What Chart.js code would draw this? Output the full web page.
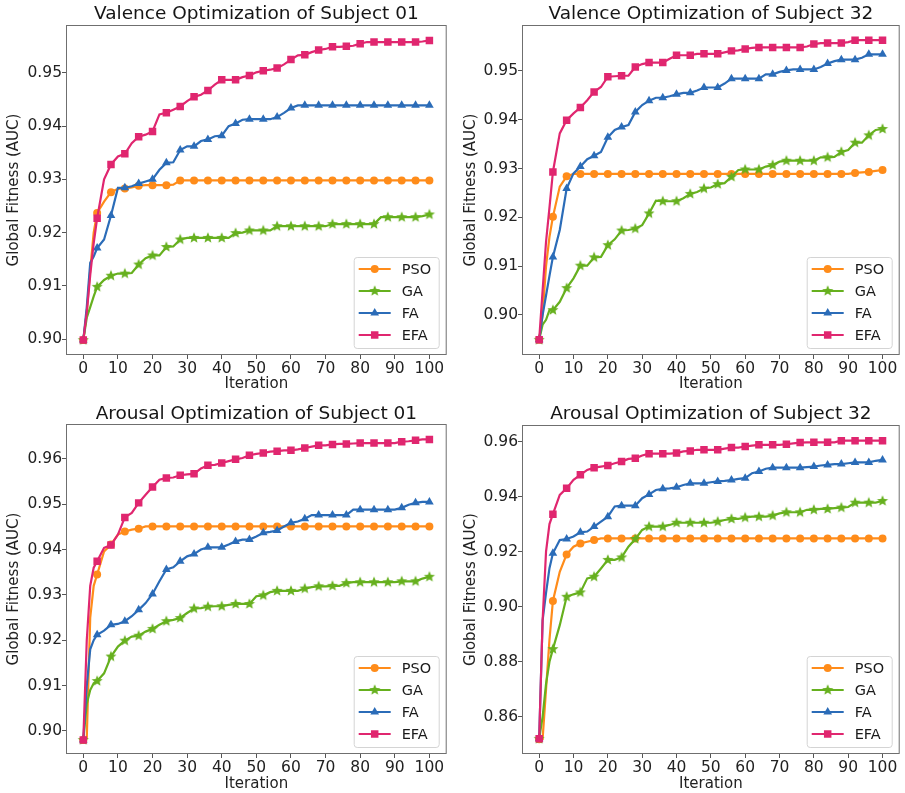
<!DOCTYPE html>
<html>
<head>
<meta charset="utf-8">
<script src="https://cdn.jsdelivr.net/npm/chart.js@4.4.0/dist/chart.umd.min.js"></script>
<style>
  body { margin: 0; background: #fff; }
  #wrap { position: relative; width: 905px; height: 793px; }
  canvas { position: absolute; }
</style>
</head>
<body>
<div id="wrap">
  <canvas id="c1" width="452" height="395" style="left:0;top:0"></canvas>
  <canvas id="c2" width="453" height="395" style="left:452px;top:0"></canvas>
  <canvas id="c3" width="452" height="398" style="left:0;top:395px"></canvas>
  <canvas id="c4" width="453" height="398" style="left:452px;top:395px"></canvas>
</div>
<script>
// iterations sampled (markers every 4th iteration)
const iterations = [0, 1, 2, 3, 4,
  6, 8, 10, 12, 14, 16, 18, 20,
  22, 24, 26, 28, 30, 32, 34, 36,
  38, 40, 42, 44, 46, 48, 50, 52,
  54, 56, 58, 60, 62, 64, 66, 68,
  70, 72, 74, 76, 78, 80, 82, 84,
  86, 88, 90, 92, 94, 96, 98, 100]

const methods = ['PSO', 'GA', 'FA', 'EFA']
const titles = ['Valence Optimization of Subject 01', 'Valence Optimization of Subject 32',
  'Arousal Optimization of Subject 01', 'Arousal Optimization of Subject 32']

const xTicks = [0, 10, 20, 30, 40, 50, 60, 70, 80, 90, 100]
const v01Ticks = [0.90, 0.91, 0.92, 0.93, 0.94, 0.95]
const v32Ticks = [0.90, 0.91, 0.92, 0.93, 0.94, 0.95]
const a01Ticks = [0.90, 0.91, 0.92, 0.93, 0.94, 0.95, 0.96]
const a32Ticks = [0.86, 0.88, 0.90, 0.92, 0.94, 0.96]

// Valence, subject 01
const v01PSO = [0.8998, 0.9050, 0.9130, 0.9200, 0.9237,
  0.9258, 0.9276, 0.9282, 0.9283, 0.9285, 0.9288, 0.9289, 0.9289,
  0.9289, 0.9289, 0.9290, 0.9298, 0.9298, 0.9298, 0.9298, 0.9298,
  0.9298, 0.9298, 0.9298, 0.9298, 0.9298, 0.9298, 0.9298, 0.9298,
  0.9298, 0.9298, 0.9298, 0.9298, 0.9298, 0.9298, 0.9298, 0.9298,
  0.9298, 0.9298, 0.9298, 0.9298, 0.9298, 0.9298, 0.9298, 0.9298,
  0.9298, 0.9298, 0.9298, 0.9298, 0.9298, 0.9298, 0.9298, 0.9298]
const v01GA = [0.8998, 0.9040, 0.9060, 0.9080, 0.9098,
  0.9111, 0.9119, 0.9123, 0.9123, 0.9124, 0.9140, 0.9152, 0.9157,
  0.9157, 0.9173, 0.9174, 0.9187, 0.9190, 0.9190, 0.9190, 0.9190,
  0.9190, 0.9190, 0.9190, 0.9199, 0.9200, 0.9204, 0.9204, 0.9204,
  0.9204, 0.9212, 0.9212, 0.9212, 0.9212, 0.9212, 0.9212, 0.9212,
  0.9212, 0.9216, 0.9216, 0.9216, 0.9216, 0.9216, 0.9216, 0.9216,
  0.9229, 0.9229, 0.9229, 0.9229, 0.9229, 0.9229, 0.9231, 0.9234]
const v01FA = [0.8998, 0.9060, 0.9143, 0.9155, 0.9171,
  0.9187, 0.9232, 0.9284, 0.9284, 0.9287, 0.9292, 0.9296, 0.9300,
  0.9318, 0.9331, 0.9332, 0.9355, 0.9362, 0.9362, 0.9372, 0.9375,
  0.9381, 0.9382, 0.9400, 0.9405, 0.9412, 0.9413, 0.9413, 0.9413,
  0.9413, 0.9417, 0.9425, 0.9434, 0.9439, 0.9439, 0.9439, 0.9439,
  0.9439, 0.9439, 0.9439, 0.9439, 0.9439, 0.9439, 0.9439, 0.9439,
  0.9439, 0.9439, 0.9439, 0.9439, 0.9439, 0.9439, 0.9439, 0.9439]
const v01EFA = [0.8998, 0.9050, 0.9120, 0.9180, 0.9227,
  0.9300, 0.9328, 0.9343, 0.9348, 0.9368, 0.9380, 0.9384, 0.9390,
  0.9422, 0.9425, 0.9431, 0.9437, 0.9447, 0.9455, 0.9459, 0.9467,
  0.9478, 0.9487, 0.9487, 0.9487, 0.9492, 0.9495, 0.9501, 0.9504,
  0.9506, 0.9509, 0.9516, 0.9525, 0.9533, 0.9534, 0.9539, 0.9543,
  0.9545, 0.9549, 0.9549, 0.9550, 0.9551, 0.9555, 0.9558, 0.9558,
  0.9558, 0.9558, 0.9558, 0.9558, 0.9558, 0.9558, 0.9559, 0.9561]

// Valence, subject 32
const v32PSO = [0.8949, 0.9000, 0.9100, 0.9160, 0.9201,
  0.9263, 0.9284, 0.9289, 0.9289, 0.9289, 0.9289, 0.9289, 0.9289,
  0.9289, 0.9289, 0.9289, 0.9289, 0.9289, 0.9289, 0.9289, 0.9289,
  0.9289, 0.9289, 0.9289, 0.9289, 0.9289, 0.9289, 0.9289, 0.9289,
  0.9289, 0.9289, 0.9289, 0.9289, 0.9289, 0.9289, 0.9289, 0.9289,
  0.9289, 0.9289, 0.9289, 0.9289, 0.9289, 0.9289, 0.9289, 0.9289,
  0.9289, 0.9289, 0.9289, 0.9291, 0.9292, 0.9293, 0.9295, 0.9297]
const v32GA = [0.8949, 0.8980, 0.8990, 0.9010, 0.9010,
  0.9027, 0.9055, 0.9075, 0.9101, 0.9101, 0.9118, 0.9119, 0.9143,
  0.9155, 0.9173, 0.9174, 0.9177, 0.9184, 0.9208, 0.9234, 0.9233,
  0.9233, 0.9233, 0.9239, 0.9248, 0.9252, 0.9259, 0.9261, 0.9268,
  0.9270, 0.9283, 0.9297, 0.9298, 0.9298, 0.9298, 0.9304, 0.9307,
  0.9314, 0.9316, 0.9316, 0.9316, 0.9316, 0.9316, 0.9323, 0.9323,
  0.9324, 0.9334, 0.9338, 0.9353, 0.9353, 0.9368, 0.9379, 0.9381]
const v32FA = [0.8949, 0.9000, 0.9040, 0.9080, 0.9119,
  0.9174, 0.9259, 0.9290, 0.9304, 0.9319, 0.9326, 0.9334, 0.9364,
  0.9379, 0.9385, 0.9389, 0.9416, 0.9430, 0.9439, 0.9445, 0.9445,
  0.9448, 0.9452, 0.9455, 0.9455, 0.9460, 0.9466, 0.9466, 0.9466,
  0.9474, 0.9484, 0.9484, 0.9484, 0.9484, 0.9484, 0.9493, 0.9493,
  0.9498, 0.9501, 0.9503, 0.9503, 0.9503, 0.9503, 0.9508, 0.9515,
  0.9520, 0.9523, 0.9523, 0.9523, 0.9527, 0.9534, 0.9534, 0.9534]
const v32EFA = [0.8949, 0.9050, 0.9150, 0.9220, 0.9293,
  0.9372, 0.9399, 0.9413, 0.9425, 0.9440, 0.9457, 0.9467, 0.9488,
  0.9489, 0.9490, 0.9490, 0.9508, 0.9514, 0.9517, 0.9517, 0.9517,
  0.9525, 0.9532, 0.9532, 0.9532, 0.9535, 0.9535, 0.9535, 0.9535,
  0.9538, 0.9541, 0.9542, 0.9545, 0.9547, 0.9548, 0.9548, 0.9548,
  0.9548, 0.9548, 0.9548, 0.9548, 0.9550, 0.9555, 0.9557, 0.9557,
  0.9557, 0.9557, 0.9559, 0.9563, 0.9563, 0.9563, 0.9563, 0.9563]

// Arousal, subject 01
const a01PSO = [0.8980, 0.8984, 0.9250, 0.9320, 0.9345,
  0.9396, 0.9411, 0.9433, 0.9440, 0.9444, 0.9446, 0.9451, 0.9451,
  0.9451, 0.9451, 0.9451, 0.9451, 0.9451, 0.9451, 0.9451, 0.9451,
  0.9451, 0.9451, 0.9451, 0.9451, 0.9451, 0.9451, 0.9451, 0.9451,
  0.9451, 0.9451, 0.9451, 0.9451, 0.9451, 0.9451, 0.9451, 0.9451,
  0.9451, 0.9451, 0.9451, 0.9451, 0.9451, 0.9451, 0.9451, 0.9451,
  0.9451, 0.9451, 0.9451, 0.9451, 0.9451, 0.9451, 0.9451, 0.9451]
const a01GA = [0.8980, 0.9060, 0.9090, 0.9105, 0.9110,
  0.9127, 0.9164, 0.9186, 0.9199, 0.9208, 0.9210, 0.9219, 0.9225,
  0.9234, 0.9242, 0.9245, 0.9249, 0.9260, 0.9270, 0.9271, 0.9274,
  0.9275, 0.9275, 0.9278, 0.9280, 0.9280, 0.9280, 0.9297, 0.9299,
  0.9306, 0.9309, 0.9309, 0.9309, 0.9309, 0.9314, 0.9317, 0.9319,
  0.9319, 0.9320, 0.9320, 0.9326, 0.9328, 0.9328, 0.9328, 0.9328,
  0.9328, 0.9328, 0.9328, 0.9330, 0.9330, 0.9330, 0.9336, 0.9340]
const a01FA = [0.8980, 0.9100, 0.9180, 0.9200, 0.9212,
  0.9221, 0.9234, 0.9236, 0.9242, 0.9253, 0.9267, 0.9282, 0.9302,
  0.9330, 0.9356, 0.9361, 0.9374, 0.9385, 0.9390, 0.9400, 0.9405,
  0.9405, 0.9405, 0.9411, 0.9418, 0.9422, 0.9422, 0.9429, 0.9437,
  0.9439, 0.9442, 0.9451, 0.9459, 0.9462, 0.9468, 0.9476, 0.9476,
  0.9476, 0.9476, 0.9476, 0.9476, 0.9488, 0.9488, 0.9488, 0.9488,
  0.9488, 0.9488, 0.9488, 0.9492, 0.9499, 0.9503, 0.9505, 0.9505]
const a01EFA = [0.8980, 0.9200, 0.9320, 0.9360, 0.9374,
  0.9404, 0.9410, 0.9433, 0.9471, 0.9481, 0.9503, 0.9521, 0.9538,
  0.9554, 0.9558, 0.9559, 0.9564, 0.9566, 0.9567, 0.9579, 0.9586,
  0.9587, 0.9591, 0.9595, 0.9599, 0.9602, 0.9608, 0.9611, 0.9613,
  0.9616, 0.9617, 0.9619, 0.9619, 0.9621, 0.9624, 0.9627, 0.9630,
  0.9630, 0.9632, 0.9633, 0.9633, 0.9634, 0.9635, 0.9635, 0.9635,
  0.9635, 0.9635, 0.9635, 0.9638, 0.9639, 0.9641, 0.9643, 0.9643]

// Arousal, subject 32
const a32PSO = [0.8519, 0.8520, 0.8700, 0.8880, 0.9021,
  0.9127, 0.9190, 0.9218, 0.9230, 0.9236, 0.9242, 0.9248, 0.9248,
  0.9248, 0.9248, 0.9248, 0.9248, 0.9248, 0.9248, 0.9248, 0.9248,
  0.9248, 0.9248, 0.9248, 0.9248, 0.9248, 0.9248, 0.9248, 0.9248,
  0.9248, 0.9248, 0.9248, 0.9248, 0.9248, 0.9248, 0.9248, 0.9248,
  0.9248, 0.9248, 0.9248, 0.9248, 0.9248, 0.9248, 0.9248, 0.9248,
  0.9248, 0.9248, 0.9248, 0.9248, 0.9248, 0.9248, 0.9248, 0.9248]
const a32GA = [0.8520, 0.8600, 0.8720, 0.8800, 0.8846,
  0.8933, 0.9036, 0.9045, 0.9052, 0.9103, 0.9109, 0.9139, 0.9170,
  0.9170, 0.9179, 0.9218, 0.9246, 0.9279, 0.9291, 0.9291, 0.9291,
  0.9297, 0.9305, 0.9305, 0.9305, 0.9305, 0.9305, 0.9305, 0.9309,
  0.9315, 0.9319, 0.9319, 0.9324, 0.9327, 0.9327, 0.9327, 0.9331,
  0.9339, 0.9343, 0.9343, 0.9343, 0.9352, 0.9352, 0.9355, 0.9355,
  0.9358, 0.9360, 0.9362, 0.9378, 0.9378, 0.9378, 0.9378, 0.9384]
const a32FA = [0.8520, 0.8950, 0.9050, 0.9140, 0.9194,
  0.9242, 0.9246, 0.9255, 0.9270, 0.9273, 0.9291, 0.9309, 0.9327,
  0.9364, 0.9367, 0.9367, 0.9367, 0.9394, 0.9408, 0.9424, 0.9428,
  0.9430, 0.9434, 0.9442, 0.9448, 0.9448, 0.9448, 0.9452, 0.9455,
  0.9457, 0.9460, 0.9464, 0.9467, 0.9485, 0.9491, 0.9501, 0.9505,
  0.9505, 0.9505, 0.9505, 0.9505, 0.9507, 0.9509, 0.9513, 0.9515,
  0.9518, 0.9518, 0.9521, 0.9524, 0.9524, 0.9524, 0.9530, 0.9533]
const a32EFA = [0.8520, 0.8950, 0.9200, 0.9300, 0.9336,
  0.9406, 0.9430, 0.9461, 0.9479, 0.9497, 0.9505, 0.9509, 0.9513,
  0.9521, 0.9527, 0.9537, 0.9539, 0.9549, 0.9556, 0.9556, 0.9556,
  0.9556, 0.9558, 0.9564, 0.9566, 0.9570, 0.9570, 0.9570, 0.9570,
  0.9574, 0.9578, 0.9578, 0.9582, 0.9585, 0.9588, 0.9588, 0.9588,
  0.9588, 0.9590, 0.9593, 0.9596, 0.9597, 0.9597, 0.9597, 0.9597,
  0.9597, 0.9603, 0.9603, 0.9603, 0.9603, 0.9603, 0.9603, 0.9603]

const FONT = 'DejaVu Sans'
const colors = ['#ff8c1a', '#66b01e', '#2b6cb8', '#e0266f']

// filled five point star, like matplotlib's '*'
function starImage(color, r) {
  const c = document.createElement('canvas')
  const s = Math.ceil(r * 2 + 2)
  c.width = s
  c.height = s
  const g = c.getContext('2d')
  g.fillStyle = color
  g.beginPath()
  for (let i = 0; i < 10; i++) {
    const rr = i % 2 ? r * 0.45 : r
    const a = -Math.PI / 2 + (i * Math.PI) / 5
    g.lineTo(s / 2 + rr * Math.cos(a), s / 2 + rr * Math.sin(a))
  }
  g.closePath()
  g.fill()
  return c
}

const markers = [
  { style: 'circle', r: 4 },
  { style: starImage(colors[1], 5.8), r: 5 },
  { style: 'triangle', r: 5 },
  { style: 'rect', r: 5.3 },
]

function drawMarker(ctx, i, x, y) {
  const m = markers[i]
  ctx.fillStyle = colors[i]
  if (typeof m.style !== 'string') {
    ctx.drawImage(m.style, x - m.style.width / 2, y - m.style.height / 2)
    return
  }
  ctx.beginPath()
  if (m.style === 'circle') {
    ctx.arc(x, y, m.r, 0, Math.PI * 2)
  } else if (m.style === 'triangle') {
    for (let k = 0; k < 3; k++) {
      const a = -Math.PI / 2 + (k * 2 * Math.PI) / 3
      ctx.lineTo(x + m.r * Math.cos(a), y + m.r * Math.sin(a))
    }
    ctx.closePath()
  } else {
    const h = m.r * Math.SQRT1_2
    ctx.rect(x - h, y - h, 2 * h, 2 * h)
  }
  ctx.fill()
}

// frame, title and legend drawn like matplotlib's axes
const decor = {
  id: 'decor',
  afterDraw(chart, args, opts) {
    const ctx = chart.ctx
    const a = chart.chartArea
    ctx.save()
    ctx.strokeStyle = '#6f6f6f'
    ctx.lineWidth = 1
    ctx.strokeRect(a.left + 0.5, a.top + 0.5, a.right - a.left - 1, a.bottom - a.top - 1)

    ctx.fillStyle = '#151515'
    ctx.font = '18.5px "' + FONT + '"'
    ctx.textAlign = 'center'
    ctx.textBaseline = 'middle'
    ctx.fillText(opts.title, (a.left + a.right) / 2, opts.titleY)

    // legend, lower right
    const bw = 85, bh = 91
    const bx = a.right - 8 - bw, by = a.bottom - 7 - bh
    ctx.fillStyle = 'rgba(255,255,255,0.85)'
    ctx.strokeStyle = '#d4d4d4'
    ctx.beginPath()
    ctx.roundRect(bx + 0.5, by + 0.5, bw, bh, 3)
    ctx.fill()
    ctx.stroke()
    ctx.font = '14.5px "' + FONT + '"'
    ctx.textAlign = 'left'
    methods.forEach((name, i) => {
      const y = by + 12 + i * 22
      ctx.strokeStyle = colors[i]
      ctx.lineWidth = 2.2
      ctx.beginPath()
      ctx.moveTo(bx + 5, y)
      ctx.lineTo(bx + 37, y)
      ctx.stroke()
      drawMarker(ctx, i, bx + 21, y)
      ctx.fillStyle = '#1a1a1a'
      ctx.fillText(name, bx + 48, y + 1)
    })
    ctx.restore()
  },
}

const panels = [
  { id: 'c1', title: titles[0], series: [v01PSO, v01GA, v01FA, v01EFA], yTicks: v01Ticks,
    yMin: 0.8970, yMax: 0.9590, area: [66, 25, 449, 355], titleY: 14, yTitleX: 14, xTitleBottom: 11 },
  { id: 'c2', title: titles[1], series: [v32PSO, v32GA, v32FA, v32EFA], yTicks: v32Ticks,
    yMin: 0.8918, yMax: 0.9594, area: [70, 25, 452, 355], titleY: 14, yTitleX: 19.5, xTitleBottom: 11 },
  { id: 'c3', title: titles[2], series: [a01PSO, a01GA, a01FA, a01EFA], yTicks: a01Ticks,
    yMin: 0.8949, yMax: 0.9677, area: [66, 29, 449, 359], titleY: 19, yTitleX: 14, xTitleBottom: 9 },
  { id: 'c4', title: titles[3], series: [a32PSO, a32GA, a32FA, a32EFA], yTicks: a32Ticks,
    yMin: 0.8465, yMax: 0.9660, area: [70, 30, 452, 359], titleY: 19, yTitleX: 19.5, xTitleBottom: 9 },
]

panels.forEach(p => {
  const canvas = document.getElementById(p.id)
  const W = canvas.width, H = canvas.height
  new Chart(canvas, {
    type: 'line',
    data: {
      labels: iterations,
      datasets: p.series.map((vals, i) => ({
        label: methods[i],
        data: vals,
        order: 3 - i,
        borderColor: colors[i],
        backgroundColor: colors[i],
        borderWidth: 2.2,
        tension: 0,
        pointStyle: markers[i].style,
        pointRadius: c => (iterations[c.dataIndex] % 4 === 0 ? markers[i].r : 0),
        pointHoverRadius: c => (iterations[c.dataIndex] % 4 === 0 ? markers[i].r : 0),
        pointBorderWidth: 0,
        pointBackgroundColor: colors[i],
        pointBorderColor: colors[i],
      })),
    },
    options: {
      responsive: false,
      animation: false,
      events: [],
      layout: { padding: { left: 0, top: p.area[1], right: W - p.area[2], bottom: 0 } },
      plugins: {
        legend: { display: false },
        tooltip: { enabled: false },
        decor: { title: p.title, titleY: p.titleY },
      },
      scales: {
        x: {
          type: 'linear',
          min: -5,
          max: 105,
          border: { display: false },
          grid: { drawOnChartArea: false, drawTicks: true, tickLength: 4, color: '#555' },
          afterBuildTicks: s => { s.ticks = xTicks.map(v => ({ value: v })) },
          afterFit: s => { s.height = H - p.area[3] },
          ticks: { color: '#222', padding: 1, font: { family: FONT, size: 15.5 }, callback: v => String(v) },
          title: {
            display: true, text: 'Iteration', color: '#222',
            font: { family: FONT, size: 15 }, padding: { top: 0, bottom: p.xTitleBottom - 9 },
          },
        },
        y: {
          min: p.yMin,
          max: p.yMax,
          border: { display: false },
          grid: { drawOnChartArea: false, drawTicks: true, tickLength: 4, color: '#555' },
          afterBuildTicks: s => { s.ticks = p.yTicks.map(v => ({ value: v })) },
          afterFit: s => { s.width = p.area[0] },
          ticks: { color: '#222', padding: 0, font: { family: FONT, size: 15.5 }, callback: v => v.toFixed(2) },
          title: {
            display: true, text: 'Global Fitness (AUC)', color: '#222',
            font: { family: FONT, size: 15 }, padding: { top: p.yTitleX - 9, bottom: 0 },
          },
        },
      },
    },
    plugins: [decor],
  })
})
</script>
</body>
</html>
